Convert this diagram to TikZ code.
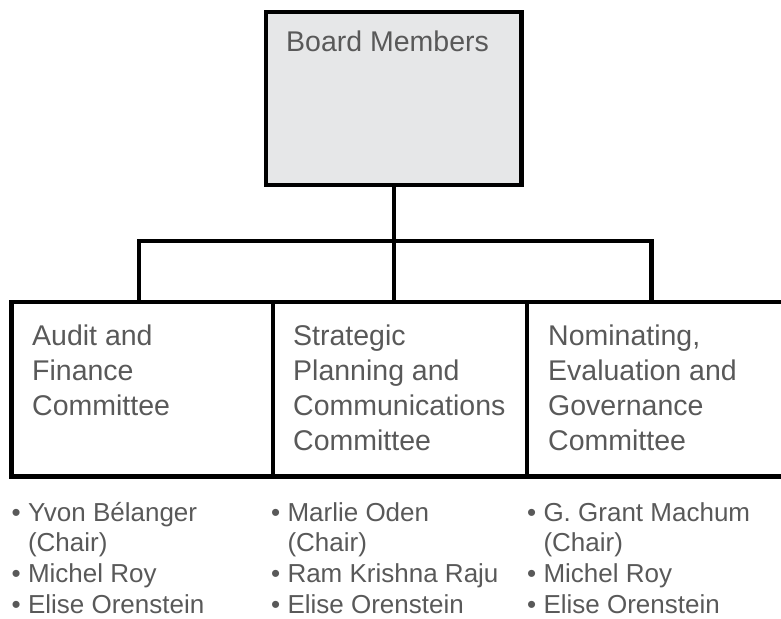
\documentclass[tikz,border=0pt]{standalone}
\usepackage{fontspec}
\setmainfont{Liberation Sans}
\usetikzlibrary{calc,positioning}
\definecolor{boardgray}{HTML}{E6E7E8}
\definecolor{textgray}{HTML}{595959}
\newcommand{\ind}{\hphantom{• }}
\tikzset{
	box/.style ={rectangle, draw, line width=4.5pt, inner sep=0pt, outer sep=0pt, minimum height=174.5pt},
	title/.style ={anchor=base west, inner sep=0pt, align=left, text=textgray, font=\fontsize{28.5}{35}\selectfont},
	members/.style ={anchor=base west, inner sep=0pt, align=left, text=textgray, font=\fontsize{26}{30.7}\selectfont},
	link/.style ={line width=4.5pt, line cap=rect}
}

\begin{document}
\begin{tikzpicture}[x=1pt,y=-1pt]
	\useasboundingbox (0,0) rectangle (781,618);
	\clip (0,0) rectangle (781,618);

	\node[box, fill=boardgray, minimum width=255.5pt, minimum height=173pt] (board) at (393.75,98.5) {};
	\node[box, minimum width=261.5pt] (audit) at (142.25,389.25) {};
	\node[box, minimum width=254pt, right=0pt of audit] (plan) {};
	\node[box, minimum width=263pt, right=0pt of plan] (nominate) {};

	\coordinate (forkL) at (139,241);
	\coordinate (forkR) at (651.5,241);
	\draw[link] (board.south) -- (board.south |- forkL);
	\draw[link] (forkL) -- (forkR);
	\draw[link] (forkL) -- (forkL |- audit.north);
	\draw[link] (board.south |- forkL) -- (board.south |- plan.north);
	\draw[link] (forkR) -- (forkR |- nominate.north);

	% base anchor sits on the last line
	\node[title] (boardtext) at ($(board.north west)+(20,40)$) {Board Members};
	\node[title] (audittext) at ($(audit.north west)+(20.5,113)$) {Audit and\\Finance\\Committee};
	\node[title] (plantext) at ($(plan.north west)+(20,148)$) {Strategic\\Planning and\\Communications\\Committee};
	\node[title] (nominatetext) at ($(nominate.north west)+(21,148)$) {Nominating,\\Evaluation and\\Governance\\Committee};

	\node[members] (auditlist) at ($(audit.south west)+(0,136.6)$) {• Yvon Bélanger\\\ind(Chair)\\• Michel Roy\\• Elise Orenstein};
	\node[members] (planlist) at ($(plan.south west)+(-2,136.6)$) {• Marlie Oden\\\ind(Chair)\\• Ram Krishna Raju\\• Elise Orenstein};
	\node[members] (nominatelist) at ($(nominate.south west)+(0,136.6)$) {• G. Grant Machum\\\ind(Chair)\\• Michel Roy\\• Elise Orenstein};
\end{tikzpicture}
\end{document}
